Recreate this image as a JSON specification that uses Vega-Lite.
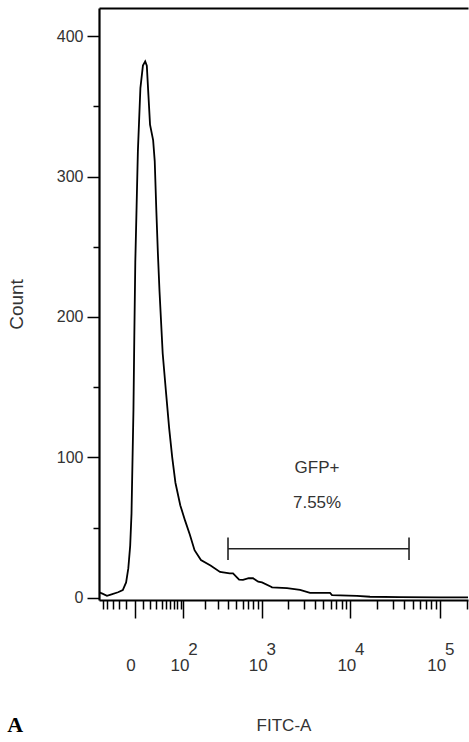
{
  "$schema": "https://vega.github.io/schema/vega-lite/v6.json",
  "width": 369,
  "height": 592,
  "autosize": {"type": "none"},
  "padding": {"left": 99, "top": 8, "right": 1, "bottom": 142},
  "background": "white",
  "config": {"view": {"stroke": null}, "font": "Liberation Sans"},
  "title": {"text": "A", "orient": "bottom", "anchor": "start", "frame": "bounds", "font": "Liberation Serif", "fontWeight": "bold", "fontSize": 22, "color": "#000000", "offset": -18},
  "datasets": {
    "hist": [
      {"fitc": -59, "count": 4}, {"fitc": -51, "count": 3}, {"fitc": -41, "count": 1.5}, {"fitc": -32, "count": 2.5},
      {"fitc": -21, "count": 4}, {"fitc": -14, "count": 5.5}, {"fitc": -9.6, "count": 11}, {"fitc": -6.9, "count": 21},
      {"fitc": -4.7, "count": 37}, {"fitc": -3.2, "count": 60}, {"fitc": -2.2, "count": 95}, {"fitc": -1.1, "count": 134},
      {"fitc": -0.2, "count": 187}, {"fitc": 0.8, "count": 239}, {"fitc": 2.2, "count": 279}, {"fitc": 3.6, "count": 318},
      {"fitc": 6.5, "count": 363}, {"fitc": 9.6, "count": 379}, {"fitc": 12.6, "count": 382}, {"fitc": 14.8, "count": 379},
      {"fitc": 17.1, "count": 358}, {"fitc": 19.5, "count": 337}, {"fitc": 24.4, "count": 326}, {"fitc": 27.1, "count": 311},
      {"fitc": 29.9, "count": 276}, {"fitc": 32.8, "count": 245}, {"fitc": 35.9, "count": 218}, {"fitc": 42.3, "count": 174},
      {"fitc": 49.4, "count": 147}, {"fitc": 57, "count": 121}, {"fitc": 65, "count": 100}, {"fitc": 74, "count": 82},
      {"fitc": 89, "count": 66}, {"fitc": 106, "count": 55}, {"fitc": 125, "count": 45}, {"fitc": 146, "count": 34},
      {"fitc": 179, "count": 27}, {"fitc": 240, "count": 23}, {"fitc": 317, "count": 18.5}, {"fitc": 417, "count": 17.5},
      {"fitc": 458, "count": 17.5}, {"fitc": 542, "count": 13}, {"fitc": 603, "count": 12.8}, {"fitc": 704, "count": 14},
      {"fitc": 791, "count": 14}, {"fitc": 909, "count": 11.5}, {"fitc": 1006, "count": 11}, {"fitc": 1278, "count": 8},
      {"fitc": 1312, "count": 7.5}, {"fitc": 1944, "count": 7}, {"fitc": 2730, "count": 5.7}, {"fitc": 3536, "count": 3.6},
      {"fitc": 5928, "count": 3.6}, {"fitc": 6240, "count": 2}, {"fitc": 11860, "count": 1.5}, {"fitc": 16580, "count": 0.8},
      {"fitc": 35800, "count": 0.5}, {"fitc": 99720, "count": 0.3}, {"fitc": 204000, "count": 0.3}
    ],
    "gate": [{"x1": 398, "x2": 45040, "count": 35}],
    "caps": [{"fitc": 398, "lo": 27, "hi": 43}, {"fitc": 45040, "lo": 27, "hi": 43}],
    "labels": [{"fitc": 4240, "count": 92.5, "label": "GFP+"}, {"fitc": 4240, "count": 67.5, "label": "7.55%"}]
  },
  "layer": [
    {
      "data": {"name": "hist"},
      "mark": {"type": "line", "color": "#000000", "strokeWidth": 1.8, "clip": true},
      "encoding": {
        "x": {
          "field": "fitc", "type": "quantitative",
          "scale": {"type": "symlog", "constant": 40, "domain": [-59.3, 204000], "nice": false, "zero": false},
          "axis": {
            "orient": "bottom",
            "values": [-50, -40, -30, -20, -10, 0, 10, 20, 30, 40, 50, 60, 70, 80, 90, 100, 200, 300, 400, 500, 600, 700, 800, 900, 1000, 2000, 3000, 4000, 5000, 6000, 7000, 8000, 9000, 10000, 20000, 30000, 40000, 50000, 60000, 70000, 80000, 90000, 100000, 200000],
            "labelExpr": "datum.value == 0 ? '0' : (datum.value == 100 || datum.value == 1000 || datum.value == 10000 || datum.value == 100000) ? '10' : ''",
            "tickSize": {"condition": {"test": "datum.value == 0 || datum.value == 100 || datum.value == 1000 || datum.value == 10000 || datum.value == 100000", "value": 18}, "value": 9},
            "tickColor": "#000000", "tickWidth": 1.5,
            "domainColor": "#000000", "domainWidth": 2.2,
            "labelFont": "Liberation Sans", "labelFontSize": 17, "labelColor": "#333333",
            "labelPadding": 47, "labelBaseline": "middle", "labelOffset": -4, "labelOverlap": false, "labelFlush": false,
            "grid": false,
            "title": "FITC-A", "titleFont": "Liberation Sans", "titleFontSize": 17, "titleFontWeight": "normal", "titleColor": "#333333", "titlePadding": 44
          }
        },
        "y": {
          "field": "count", "type": "quantitative",
          "scale": {"domain": [-1.5, 420], "nice": false, "zero": false},
          "axis": {
            "values": [0, 25, 50, 75, 100, 125, 150, 175, 200, 225, 250, 275, 300, 325, 350, 375, 400],
            "labelExpr": "datum.value % 100 == 0 ? datum.label : ''",
            "tickSize": {"condition": {"test": "datum.value % 100 == 0", "value": 12}, "value": 6},
            "tickColor": "#000000", "tickWidth": 1.5,
            "domainColor": "#000000", "domainWidth": 2.2,
            "labelFont": "Liberation Sans", "labelFontSize": 16, "labelColor": "#333333", "labelPadding": 4,
            "labelOverlap": false, "labelFlush": false, "grid": false,
            "title": "Count", "titleFont": "Liberation Sans", "titleFontSize": 19, "titleFontWeight": "normal", "titleColor": "#333333", "titlePadding": 30
          }
        }
      }
    },
    {
      "data": {"name": "gate"},
      "mark": {"type": "rule", "color": "#222222", "strokeWidth": 1.6},
      "encoding": {
        "x": {
          "field": "x1", "type": "quantitative",
          "axis": {
            "orient": "bottom",
            "values": [100, 1000, 10000, 100000],
            "labelExpr": "datum.value == 100 ? '2' : datum.value == 1000 ? '3' : datum.value == 10000 ? '4' : '5'",
            "ticks": false, "domain": false, "grid": false,
            "labelFont": "Liberation Sans", "labelFontSize": 17, "labelColor": "#333333",
            "labelPadding": 49, "labelBaseline": "middle", "labelOffset": 9, "labelOverlap": false, "labelFlush": false,
            "title": null
          }
        },
        "x2": {"field": "x2"},
        "y": {"field": "count", "type": "quantitative"}
      }
    },
    {
      "data": {"name": "caps"},
      "mark": {"type": "rule", "color": "#222222", "strokeWidth": 1.6},
      "encoding": {
        "x": {
          "field": "fitc", "type": "quantitative",
          "axis": {"orient": "top", "labels": false, "ticks": false, "grid": false, "domain": true, "domainColor": "#000000", "domainWidth": 2, "title": null}
        },
        "y": {"field": "lo", "type": "quantitative"},
        "y2": {"field": "hi"}
      }
    },
    {
      "data": {"name": "labels"},
      "mark": {"type": "text", "font": "Liberation Sans", "fontSize": 17, "color": "#333333", "align": "center", "baseline": "middle"},
      "encoding": {
        "x": {"field": "fitc", "type": "quantitative", "axis": null},
        "y": {"field": "count", "type": "quantitative"},
        "text": {"field": "label"}
      }
    }
  ],
  "resolve": {"axis": {"x": "independent"}}
}
